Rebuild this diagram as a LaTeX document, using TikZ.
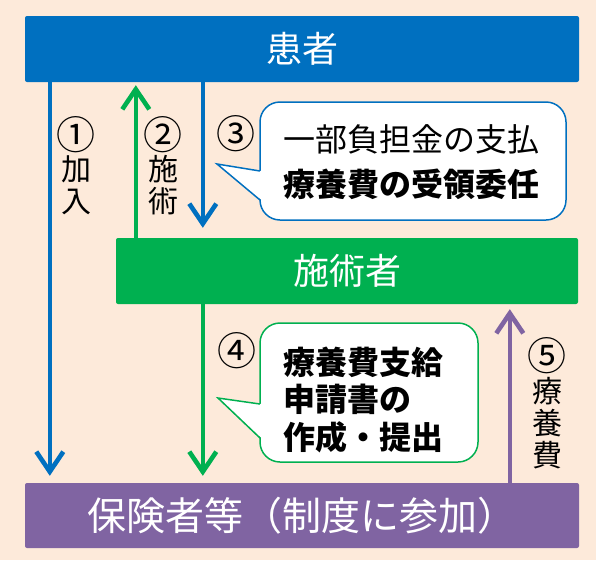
\documentclass[tikz,border=0pt]{standalone}
\usepackage{fontspec}
\usepackage{graphicx}
\newfontfamily\jp{Noto Sans CJK JP}
\usetikzlibrary{arrows.meta}
\definecolor{bg}{HTML}{FDEADA}
\definecolor{cblue}{HTML}{0070C0}
\definecolor{cgreen}{HTML}{00B050}
\definecolor{cpurple}{HTML}{8064A2}
\newcommand\cnum[1]{{\vphantom{加}\smash{\raisebox{-3.5pt}{\scalebox{1.3}{#1}}}}}
\begin{document}
\begin{tikzpicture}[x=1pt,y=-1pt,
  box/.style={rectangle, rounded corners=2pt, inner sep=0pt, text=white},
  bigtxt/.style={font=\jp\fontsize{36}{40}\selectfont},
  arr/.style={line width=4.6pt, -{Straight Barb[length=20pt,width=27pt]}},
  lab/.style={inner sep=0pt, align=center, text=black, font=\jp\fontsize{30}{32}\selectfont},
  bubtxt/.style={inner sep=0pt, anchor=west, align=left, text=black},
  bubble/.style={line width=1.5pt, fill=white, rounded corners=20pt}]
\fill[bg] (0,0) rectangle (596,560);
\useasboundingbox (0,0) rectangle (596,560);
% boxes
\node[box, fill=cblue, minimum width=554pt, minimum height=66pt, bigtxt] (pat) at (302,49) {患者};
\node[box, fill=cgreen, minimum width=462pt, minimum height=66pt, bigtxt] (sej) at (347,271) {施術者};
\node[box, fill=cpurple, minimum width=554pt, minimum height=65pt, font=\jp\fontsize{39}{42}\selectfont] (ins) at (302,515.5) {保険者等（制度に参加）};
% arrows
\coordinate (p1) at ([xshift=25pt]pat.south west);
\coordinate (p2) at ([xshift=20pt]sej.north west);
\coordinate (p3) at ([xshift=178pt]pat.south west);
\coordinate (p4) at ([xshift=87pt]sej.south west);
\coordinate (p5) at ([xshift=485pt]ins.north west);
\draw[arr, cblue, shorten >=7pt] (p1) -- (p1 |- ins.north);
\draw[arr, cgreen, shorten >=3pt] (p2) -- (p2 |- pat.south);
\draw[arr, cblue, shorten >=10pt] (p3) -- (p3 |- sej.north);
\draw[arr, cgreen, shorten >=7pt] (p4) -- (p4 |- ins.north);
\draw[arr, cpurple, shorten >=5pt] (p5) -- (p5 |- sej.south);
% labels
\node[lab] (l1) at (76,168) {\cnum{①}\\[3pt]加\\入};
\node[lab] (l2) at (163,168) {\cnum{②}\\[3pt]施\\術};
\node[lab] (l3) at (236,134) {\cnum{③}};
\node[lab] (l4) at (237,351) {\cnum{④}};
\node[lab] (l5) at (547,405.5) {\cnum{⑤}\\[3pt]療\\養\\費};
% bubble 3
\draw[bubble, draw=cblue] (260,102) rectangle (566,220);
\fill[white] (261.5,171) -- (217,164) -- (261.5,200) -- cycle;
\draw[line width=1.5pt, cblue, line join=miter] (260,171) -- (217,164) -- (260,200);
\node[bubtxt, font=\jp\fontsize{32}{45}\selectfont] (b3) at (283,162.5) {一部負担金の支払\\{\bfseries 療養費の受領委任}};
% bubble 4
\draw[bubble, draw=cgreen] (260,323) rectangle (478,462);
\fill[white] (261.5,404) -- (218,398) -- (261.5,438) -- cycle;
\draw[line width=1.5pt, cgreen, line join=miter] (260,404) -- (218,398) -- (260,438);
\node[bubtxt, font=\jp\bfseries\fontsize{32}{37.5}\selectfont] (b4) at (283,399.5) {療養費支給\\申請書の\\作成・提出};
\end{tikzpicture}
\end{document}
